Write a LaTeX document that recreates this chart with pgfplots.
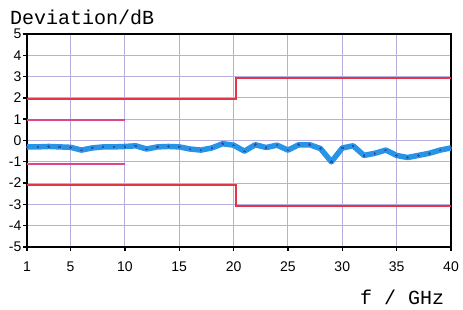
\documentclass[border=0pt]{standalone}
\usepackage{pgfplots}
\pgfplotsset{compat=1.18}
\usepackage{fontspec}
\setmainfont{Liberation Sans}
\newfontfamily\monofont{Liberation Mono}
\definecolor{gridc}{RGB}{185,175,222}
\definecolor{limred}{RGB}{228,52,72}
\definecolor{limpink}{RGB}{222,70,140}
\definecolor{meas}{RGB}{40,148,230}
\definecolor{measdot}{RGB}{45,80,175}
\begin{document}
\begin{tikzpicture}
\path[use as bounding box] (0,0) rectangle (463pt,310pt);
\begin{axis}[
  at={(27pt,63pt)}, anchor=south west,
  scale only axis, width=424pt, height=213pt,
  xmin=1, xmax=40, ymin=-5, ymax=5,
  xtick={1,5,10,15,20,25,30,35,40},
  ytick={-5,-4,-3,-2,-1,0,1,2,3,4,5},
  grid=major,
  major grid style={gridc, line width=1pt},
  axis line style={black, line width=1.6pt},
  tick align=outside, tick pos=left,
  major tick length=4pt,
  tick style={black, line width=1.4pt},
  ticklabel style={font=\fontsize{14}{14}\selectfont},
  /pgf/number format/assume math mode=true,
  yticklabel style={inner sep=1.5pt},
  xticklabel style={inner sep=2pt, yshift=-9pt},
]
\addplot[limred, line width=1.8pt] coordinates {(1,1.93) (20.2,1.93) (20.2,2.93) (40,2.93)};
\addplot[limred, line width=1.8pt] coordinates {(1,-2.08) (20.2,-2.08) (20.2,-3.08) (40,-3.08)};
\addplot[limpink, line width=2.6pt] coordinates {(1,0.96) (10,0.96)};
\addplot[limpink, line width=2.6pt] coordinates {(1,-1.1) (10,-1.1)};
\addplot[meas, line width=5.5pt, line join=round,
  mark=*, mark size=0.8pt, mark options={fill=measdot, draw=measdot, line width=0pt}]
coordinates {
(1,-0.30) (2,-0.30) (3,-0.28) (4,-0.30) (5,-0.32) (6,-0.45) (7,-0.35) (8,-0.30)
(9,-0.30) (10,-0.28) (11,-0.25) (12,-0.40) (13,-0.30) (14,-0.28) (15,-0.30) (16,-0.40)
(17,-0.45) (18,-0.35) (19,-0.15) (20,-0.22) (21,-0.50) (22,-0.20) (23,-0.33) (24,-0.22)
(25,-0.45) (26,-0.20) (27,-0.20) (28,-0.38) (29,-1.00) (30,-0.35) (31,-0.25) (32,-0.70)
(33,-0.60) (34,-0.45) (35,-0.70) (36,-0.80) (37,-0.70) (38,-0.60) (39,-0.45) (40,-0.35)
};
\end{axis}
\node[anchor=base west, inner sep=0pt, font=\monofont\fontsize{20}{20}\selectfont] at (10pt,285pt) {Deviation/dB};
\node[anchor=base west, inner sep=0pt, font=\monofont\fontsize{20}{20}\selectfont] at (360pt,5pt) {f / GHz};
\end{tikzpicture}
\end{document}
